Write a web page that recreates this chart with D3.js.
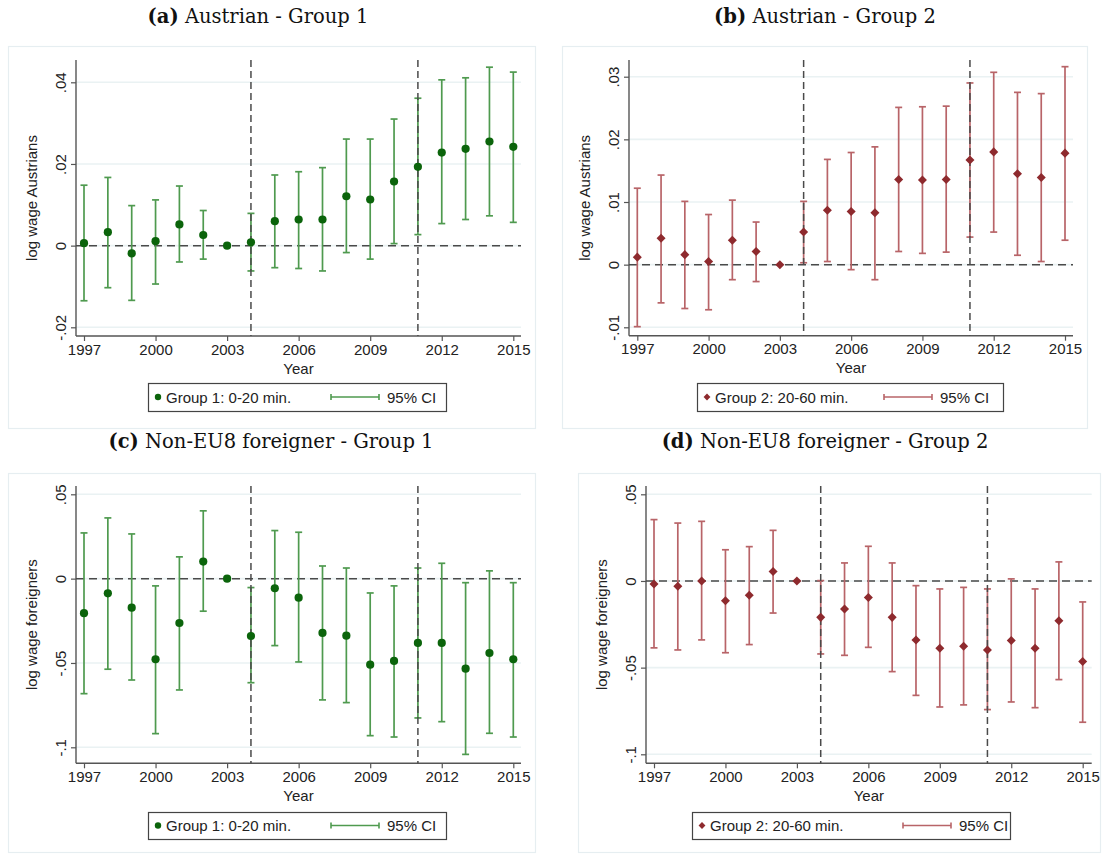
<!DOCTYPE html>
<html>
<head>
<meta charset="utf-8">
<script src="https://cdn.jsdelivr.net/npm/d3@7"></script>
<style>
  body { margin: 0; background: #fff; }
  svg { display: block; }
</style>
</head>
<body>
<svg id="chart" width="1102" height="855"></svg>
<script>
// ---- data -------------------------------------------------------------
const years = [1997, 1998, 1999, 2000, 2001, 2002, 2003, 2004, 2005, 2006,
               2007, 2008, 2009, 2010, 2011, 2012, 2013, 2014, 2015];
const xTicks = [1997, 2000, 2003, 2006, 2009, 2012, 2015];
const reformYears = [2004, 2011];

// (a) Austrians, group 1
const austG1Est = [0.0006, 0.0033, -0.0019, 0.0011, 0.0052, 0.0026, 0, 0.0008, 0.0060, 0.0064,
                   0.0064, 0.0121, 0.0113, 0.0157, 0.0193, 0.0228, 0.0237, 0.0255, 0.0242];
const austG1Lo  = [-0.0135, -0.0103, -0.0134, -0.0094, -0.0040, -0.0033, 0, -0.0062, -0.0054, -0.0056,
                   -0.0062, -0.0017, -0.0033, 0.0005, 0.0027, 0.0054, 0.0064, 0.0073, 0.0057];
const austG1Hi  = [0.0148, 0.0167, 0.0098, 0.0112, 0.0146, 0.0086, 0, 0.0079, 0.0173, 0.0181,
                   0.0191, 0.0261, 0.0261, 0.0310, 0.0361, 0.0406, 0.0411, 0.0437, 0.0425];
const austG1Ticks = [-0.02, 0, 0.02, 0.04];

// (b) Austrians, group 2
const austG2Est = [0.0012, 0.0042, 0.0016, 0.0005, 0.0039, 0.0021, 0, 0.0052, 0.0087, 0.0085,
                   0.0083, 0.0136, 0.0135, 0.0136, 0.0167, 0.0180, 0.0145, 0.0139, 0.0178];
const austG2Lo  = [-0.0099, -0.0061, -0.0070, -0.0072, -0.0024, -0.0027, 0, 0.0003, 0.0005, -0.0008,
                   -0.0024, 0.0021, 0.0018, 0.0020, 0.0044, 0.0052, 0.0015, 0.0005, 0.0039];
const austG2Hi  = [0.0122, 0.0143, 0.0101, 0.0080, 0.0103, 0.0068, 0, 0.0101, 0.0168, 0.0179,
                   0.0188, 0.0251, 0.0252, 0.0253, 0.0290, 0.0307, 0.0275, 0.0273, 0.0316];
const austG2Ticks = [-0.01, 0, 0.01, 0.02, 0.03];

// (c) Non-EU8 foreigners, group 1
const forG1Est = [-0.0205, -0.0087, -0.0172, -0.0478, -0.0263, 0.0101, 0, -0.0340, -0.0057, -0.0113,
                  -0.0322, -0.0338, -0.0510, -0.0488, -0.0381, -0.0381, -0.0534, -0.0441, -0.0478];
const forG1Lo  = [-0.0682, -0.0537, -0.0601, -0.0919, -0.0660, -0.0193, 0, -0.0617, -0.0397, -0.0494,
                  -0.0719, -0.0735, -0.0931, -0.0939, -0.0826, -0.0848, -0.1042, -0.0917, -0.0939];
const forG1Hi  = [0.0271, 0.0360, 0.0265, -0.0043, 0.0129, 0.0402, 0, -0.0053, 0.0285, 0.0275,
                  0.0075, 0.0063, -0.0085, -0.0043, 0.0063, 0.0091, -0.0024, 0.0046, -0.0024];
const forG1Ticks = [-0.1, -0.05, 0, 0.05];

// (d) Non-EU8 foreigners, group 2
const forG2Est = [-0.0017, -0.0031, 0.0000, -0.0114, -0.0083, 0.0055, 0, -0.0210, -0.0162, -0.0095,
                  -0.0210, -0.0340, -0.0388, -0.0377, -0.0398, -0.0344, -0.0388, -0.0229, -0.0465];
const forG2Lo  = [-0.0386, -0.0398, -0.0340, -0.0414, -0.0367, -0.0185, 0, -0.0421, -0.0429, -0.0383,
                  -0.0523, -0.0660, -0.0727, -0.0715, -0.0742, -0.0698, -0.0731, -0.0569, -0.0815];
const forG2Hi  = [0.0354, 0.0334, 0.0344, 0.0180, 0.0198, 0.0292, 0, 0.0002, 0.0104, 0.0200,
                  0.0104, -0.0027, -0.0046, -0.0037, -0.0046, 0.0012, -0.0046, 0.0110, -0.0121];
const forG2Ticks = [-0.1, -0.05, 0, 0.05];

const groupLabels = ["Group 1: 0-20 min.", "Group 2: 20-60 min."];
const ciLabel = "95% CI";
const xTitle = "Year";

// ---- styles -----------------------------------------------------------
const green = { point: "#0b640b", ci: "#4f9a4f" };
const red   = { point: "#8e2a2e", ci: "#b86468" };
const sans = "'Liberation Sans', Arial, sans-serif";
const serif = "'DejaVu Serif', 'Liberation Serif', serif";
const labelSize = 15;

// ---- panel layout -----------------------------------------------------
const panels = [
  { tag: "(a)", title: "Austrian - Group 1", titleX: 258, titleY: 16,
    frame: [8, 46, 527, 382], left: 76, right: 521, top: 60, bottom: 336,
    xr: [84, 513.3], yd: [-0.02, 0.04], yr: [327.3, 82.3], ticks: austG1Ticks,
    est: austG1Est, lo: austG1Lo, hi: austG1Hi, yTitle: "log wage Austrians",
    col: green, shape: "circle", group: 0, legend: [148, 383, 298, 28], ciAt: 331 },
  { tag: "(b)", title: "Austrian - Group 2", titleX: 825, titleY: 16,
    frame: [562, 46, 525, 382], left: 629, right: 1073, top: 60, bottom: 335.7,
    xr: [637.3, 1065], yd: [-0.01, 0.03], yr: [327.3, 76.7], ticks: austG2Ticks,
    est: austG2Est, lo: austG2Lo, hi: austG2Hi, yTitle: "log wage Austrians",
    col: red, shape: "diamond", group: 1, legend: [697, 383, 306, 28], ciAt: 884 },
  { tag: "(c)", title: "Non-EU8 foreigner - Group 1", titleX: 271, titleY: 441,
    frame: [8, 473, 527, 379], left: 76, right: 521, top: 486, bottom: 763.3,
    xr: [84, 513.3], yd: [-0.1, 0.05], yr: [747.3, 494.3], ticks: forG1Ticks,
    est: forG1Est, lo: forG1Lo, hi: forG1Hi, yTitle: "log wage foreigners",
    col: green, shape: "circle", group: 0, legend: [148, 812, 298, 27], ciAt: 331 },
  { tag: "(d)", title: "Non-EU8 foreigner - Group 2", titleX: 825, titleY: 441,
    frame: [578, 473, 522, 379], left: 646, right: 1091.7, top: 486, bottom: 763.3,
    xr: [654, 1082.7], yd: [-0.1, 0.05], yr: [754.3, 494.3], ticks: forG2Ticks,
    est: forG2Est, lo: forG2Lo, hi: forG2Hi, yTitle: "log wage foreigners",
    col: red, shape: "diamond", group: 1, legend: [692, 812, 318, 27], ciAt: 903 }
];

// Stata-style numeric labels: ".04", "-.1", "0"
const stataFmt = v => String(+v.toFixed(4)).replace(/^(-?)0\./, "$1.");

const svg = d3.select("#chart");
const diamond = d3.symbol().type(d3.symbolDiamond2).size(52);

panels.forEach(p => {
  const g = svg.append("g");
  const x = d3.scaleLinear().domain([years[0], years[years.length - 1]]).range(p.xr);
  const y = d3.scaleLinear().domain(p.yd).range(p.yr);

  // panel frame
  g.append("rect")
    .attr("x", p.frame[0] + 0.5).attr("y", p.frame[1] + 0.5)
    .attr("width", p.frame[2]).attr("height", p.frame[3])
    .attr("fill", "#fff").attr("stroke", "#e6eef1").attr("stroke-width", 1.2);

  // panel caption
  const t = g.append("text")
    .attr("x", p.titleX).attr("y", p.titleY)
    .attr("text-anchor", "middle").attr("dominant-baseline", "central")
    .attr("font-family", serif).attr("font-size", 19.5).attr("fill", "#111");
  t.append("tspan").attr("font-weight", "bold").text(p.tag);
  t.append("tspan").text(" " + p.title);

  // horizontal grid lines
  g.append("g").selectAll("line").data(p.ticks).join("line")
    .attr("x1", p.left).attr("x2", p.right)
    .attr("y1", d => y(d)).attr("y2", d => y(d))
    .attr("stroke", "#eaf2f3").attr("stroke-width", 1.6);

  // y axis
  const ya = g.append("g").attr("transform", `translate(${p.left},0)`)
    .call(d3.axisLeft(y).tickValues(p.ticks).tickFormat(stataFmt).tickSize(5).tickSizeOuter(0));
  ya.select(".domain").remove();
  ya.selectAll(".tick line").attr("stroke", "#555").attr("stroke-width", 1.2);
  ya.selectAll(".tick text")
    .attr("font-family", sans).attr("font-size", labelSize).attr("fill", "#222")
    .attr("x", null).attr("dy", null)
    .attr("text-anchor", "middle").attr("dominant-baseline", "central")
    .attr("transform", "translate(-16,0) rotate(-90)");

  // x axis
  const xa = g.append("g").attr("transform", `translate(0,${p.bottom})`)
    .call(d3.axisBottom(x).tickValues(xTicks).tickFormat(d3.format("d")).tickSize(5).tickSizeOuter(0));
  xa.select(".domain").remove();
  xa.selectAll(".tick line").attr("stroke", "#555").attr("stroke-width", 1.2);
  xa.selectAll(".tick text")
    .attr("font-family", sans).attr("font-size", labelSize).attr("fill", "#222")
    .attr("y", 8).attr("dy", "0.71em");

  // axis lines
  g.append("line").attr("x1", p.left).attr("x2", p.left).attr("y1", p.top).attr("y2", p.bottom)
    .attr("stroke", "#555").attr("stroke-width", 1.4);
  g.append("line").attr("x1", p.left).attr("x2", p.right).attr("y1", p.bottom).attr("y2", p.bottom)
    .attr("stroke", "#555").attr("stroke-width", 1.4);

  // axis titles
  g.append("text")
    .attr("transform", `translate(${p.left - 45},${(p.top + p.bottom) / 2}) rotate(-90)`)
    .attr("text-anchor", "middle").attr("dominant-baseline", "central")
    .attr("font-family", sans).attr("font-size", labelSize).attr("fill", "#222")
    .text(p.yTitle);
  g.append("text")
    .attr("x", (p.left + p.right) / 2).attr("y", p.bottom + 32)
    .attr("text-anchor", "middle").attr("dominant-baseline", "central")
    .attr("font-family", sans).attr("font-size", labelSize).attr("fill", "#222")
    .text(xTitle);

  // reference lines: zero and reform years
  g.append("line").attr("x1", p.left).attr("x2", p.right).attr("y1", y(0)).attr("y2", y(0))
    .attr("stroke", "#4a4a4a").attr("stroke-width", 1.5).attr("stroke-dasharray", "8,5");

  const rows = years.map((yr, i) => ({ yr, est: p.est[i], lo: p.lo[i], hi: p.hi[i] }));
  const withCI = rows.filter(d => d.lo !== d.hi);

  // confidence intervals
  const ci = g.append("g").attr("stroke", p.col.ci).attr("stroke-width", 1.7).attr("fill", "none");
  ci.selectAll("line.bar").data(withCI).join("line").attr("class", "bar")
    .attr("x1", d => x(d.yr)).attr("x2", d => x(d.yr))
    .attr("y1", d => y(d.lo)).attr("y2", d => y(d.hi));
  ci.selectAll("line.capHi").data(withCI).join("line").attr("class", "capHi")
    .attr("x1", d => x(d.yr) - 3.5).attr("x2", d => x(d.yr) + 3.5)
    .attr("y1", d => y(d.hi)).attr("y2", d => y(d.hi));
  ci.selectAll("line.capLo").data(withCI).join("line").attr("class", "capLo")
    .attr("x1", d => x(d.yr) - 3.5).attr("x2", d => x(d.yr) + 3.5)
    .attr("y1", d => y(d.lo)).attr("y2", d => y(d.lo));

  g.append("g").selectAll("line").data(reformYears).join("line")
    .attr("x1", d => x(d)).attr("x2", d => x(d)).attr("y1", p.top).attr("y2", p.bottom)
    .attr("stroke", "#4a4a4a").attr("stroke-width", 1.5).attr("stroke-dasharray", "7,4");

  // point estimates
  const pts = g.append("g").attr("fill", p.col.point);
  if (p.shape === "circle") {
    pts.selectAll("circle").data(rows).join("circle")
      .attr("cx", d => x(d.yr)).attr("cy", d => y(d.est)).attr("r", 4.1);
  } else {
    pts.selectAll("path").data(rows).join("path")
      .attr("d", diamond).attr("transform", d => `translate(${x(d.yr)},${y(d.est)})`);
  }

  // legend
  const [lx, ly, lw, lh] = p.legend;
  const cy = ly + lh / 2;
  const lg = g.append("g");
  lg.append("rect").attr("x", lx + 0.5).attr("y", ly + 0.5).attr("width", lw).attr("height", lh)
    .attr("fill", "#fff").attr("stroke", "#444").attr("stroke-width", 1.2);
  if (p.shape === "circle") {
    lg.append("circle").attr("cx", lx + 10).attr("cy", cy).attr("r", 3.2).attr("fill", p.col.point);
  } else {
    lg.append("path").attr("d", d3.symbol().type(d3.symbolDiamond2).size(30))
      .attr("transform", `translate(${lx + 10},${cy})`).attr("fill", p.col.point);
  }
  lg.append("text").attr("x", lx + 18).attr("y", cy).attr("dominant-baseline", "central")
    .attr("font-family", sans).attr("font-size", labelSize).attr("fill", "#222")
    .text(groupLabels[p.group]);
  const ciG = lg.append("g").attr("stroke", p.col.ci).attr("stroke-width", 1.6);
  ciG.append("line").attr("x1", p.ciAt).attr("x2", p.ciAt + 48).attr("y1", cy).attr("y2", cy);
  ciG.append("line").attr("x1", p.ciAt).attr("x2", p.ciAt).attr("y1", cy - 3).attr("y2", cy + 3);
  ciG.append("line").attr("x1", p.ciAt + 48).attr("x2", p.ciAt + 48).attr("y1", cy - 3).attr("y2", cy + 3);
  lg.append("text").attr("x", p.ciAt + 56).attr("y", cy).attr("dominant-baseline", "central")
    .attr("font-family", sans).attr("font-size", labelSize).attr("fill", "#222")
    .text(ciLabel);
});
</script>
</body>
</html>
